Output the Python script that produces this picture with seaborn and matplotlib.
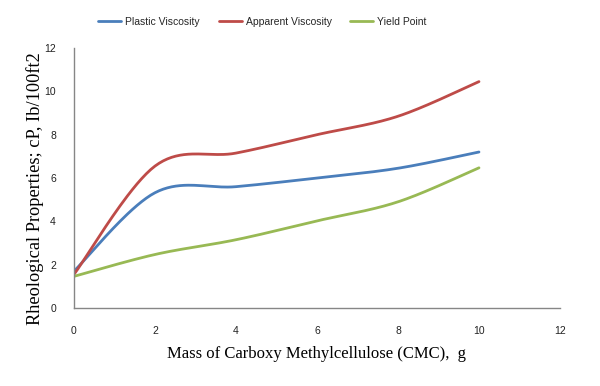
import numpy as np
import pandas as pd
import matplotlib
matplotlib.use("Agg")
import matplotlib.pyplot as plt
import seaborn as sns

mass = [0, 2, 4, 6, 8, 10]
plastic_viscosity = [1.7, 5.32, 5.6, 6.0, 6.45, 7.2]
apparent_viscosity = [1.55, 6.55, 7.15, 8.0, 8.85, 10.45]
yield_point = [1.46, 2.47, 3.15, 4.02, 4.9, 6.47]
series_names = ["Plastic Viscosity", "Apparent Viscosity", "Yield Point"]
colors = ["#4A7EBB", "#BE4B48", "#98B954"]
x_ticks = [0, 2, 4, 6, 8, 10, 12]
y_ticks = [0, 2, 4, 6, 8, 10, 12]


def smooth(xs, ys, n=40):
    # Excel-style smoothed line: Catmull-Rom Bezier through the points
    P = np.column_stack([xs, ys]).astype(float)
    out = []
    m = len(P)
    for i in range(m - 1):
        p0 = P[i - 1] if i > 0 else P[i]
        p1, p2 = P[i], P[i + 1]
        p3 = P[i + 2] if i + 2 < m else P[i + 1]
        c1 = p1 + (p2 - p0) / 6.0
        c2 = p2 - (p3 - p1) / 6.0
        t = np.linspace(0, 1, n)[:, None]
        seg = ((1 - t) ** 3) * p1 + 3 * ((1 - t) ** 2) * t * c1 + 3 * (1 - t) * t ** 2 * c2 + t ** 3 * p2
        out.append(seg if i == 0 else seg[1:])
    out = np.vstack(out)
    return out[:, 0], out[:, 1]


sns.set_theme(style="white")
plt.rcParams["font.family"] = ["Liberation Sans", "DejaVu Sans"]

fig = plt.figure(figsize=(6.0, 3.86), dpi=100)
ax = fig.add_axes([0.1233, 0.2021, 0.81, 0.6735])

frames = []
for name, vals in zip(series_names, [plastic_viscosity, apparent_viscosity, yield_point]):
    sx, sy = smooth(mass, vals)
    frames.append(pd.DataFrame({"x": sx, "y": sy, "series": name}))
df = pd.concat(frames, ignore_index=True)

sns.lineplot(data=df, x="x", y="y", hue="series", palette=colors, hue_order=series_names,
             sort=False, estimator=None, units="series", linewidth=2.0, ax=ax, legend=False)

ax.set_xlim(0, 12)
ax.set_ylim(0, 12)
ax.set_xticks(x_ticks)
ax.set_yticks(y_ticks)
ax.set_xticklabels([str(v) for v in x_ticks], fontsize=7.5, color="#222222")
ax.set_yticklabels([str(v) for v in y_ticks], fontsize=7.5, color="#222222")
ax.tick_params(axis="x", length=0, pad=13)
ax.tick_params(axis="y", length=0, pad=13)
for s in ["top", "right"]:
    ax.spines[s].set_visible(False)
for s in ["left", "bottom"]:
    ax.spines[s].set_color("#868686")
    ax.spines[s].set_linewidth(1.0)

ax.set_xlabel("Mass of Carboxy Methylcellulose (CMC),  g", family="Liberation Serif",
              fontsize=12, color="black")
ax.set_ylabel("Rheological Properties; cP, Ib/100ft2", family="Liberation Serif",
              fontsize=13.2, color="black")
ax.xaxis.set_label_coords(0.5, -0.145)
ax.yaxis.set_label_coords(-0.062, 0.458)

handles = [plt.Line2D([0], [0], color=c, lw=2.0) for c in colors]
fig.legend(handles, series_names, loc="center", bbox_to_anchor=(0.4375, 0.943), ncol=3,
           frameon=False, fontsize=7.5, handlelength=2.2, handletextpad=0.4, columnspacing=1.8)

fig.savefig("out.png", dpi=100)
